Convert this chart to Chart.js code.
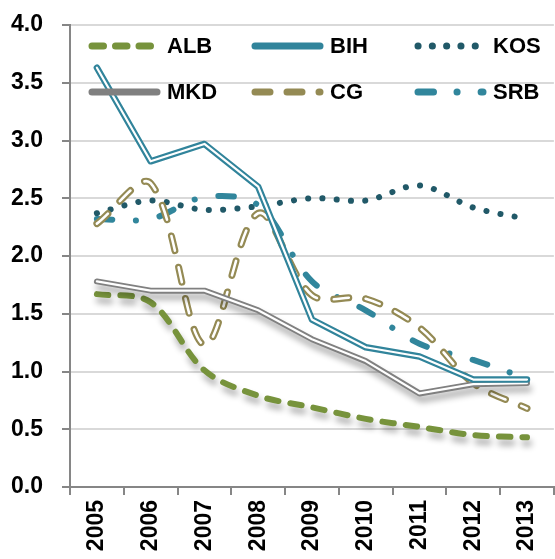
<!DOCTYPE html>
<html>
<head>
<meta charset="utf-8">
<script src="https://cdn.jsdelivr.net/npm/chart.js@4/dist/chart.umd.min.js"></script>
<style>
    html, body { margin: 0; padding: 0; background: #fff; }
    #wrap { width: 555px; height: 559px; }
</style>
</head>
<body>
<div id="wrap"><canvas id="chart" width="555" height="559"></canvas></div>
<script>
const years = ['2005', '2006', '2007', '2008', '2009', '2010', '2011', '2012', '2013'];
const yTicks = [0, 0.5, 1, 1.5, 2, 2.5, 3, 3.5, 4];

const alb = [1.67, 1.60, 1.01, 0.79, 0.69, 0.59, 0.52, 0.45, 0.43];
const bih = [3.63, 2.82, 2.97, 2.60, 1.45, 1.21, 1.13, 0.93, 0.93];
const kos = [2.37, 2.48, 2.40, 2.43, 2.50, 2.48, 2.61, 2.42, 2.32];
const mkd = [1.78, 1.70, 1.70, 1.53, 1.28, 1.09, 0.81, 0.89, 0.90];
const cg  = [2.28, 2.63, 1.23, 2.37, 1.66, 1.63, 1.38, 0.90, 0.68];
const srb = [2.32, 2.32, 2.51, 2.44, 1.78, 1.53, 1.24, 1.10, 0.94];

const seriesNames = ['ALB', 'BIH', 'KOS', 'MKD', 'CG', 'SRB'];

// look of each series, also used for the legend samples
const styles = {
    ALB: { color: '#77933C', width: 6, dash: [11.5, 12], tension: 0.33, shadow: true },
    BIH: { color: '#31849B', width: 6.5, inner: 2.2, dash: [], tension: 0, double: true },
    KOS: { color: '#215968', width: 6, dash: [0.1, 14.2], tension: 0.33 },
    MKD: { color: '#808080', width: 6, inner: 2.2, dash: [], tension: 0, double: true, shadow: true },
    CG:  { color: '#948A54', width: 7, inner: 2.6, dash: [15, 17], tension: 0.33, double: true },
    SRB: { color: '#31869C', width: 6, dash: [15.5, 23.5, 0.1, 24], tension: 0.33 }
};

const values = { ALB: alb, BIH: bih, KOS: kos, MKD: mkd, CG: cg, SRB: srb };
// bottom to top
const drawOrder = ['KOS', 'SRB', 'ALB', 'CG', 'MKD', 'BIH'];

const FONT = '"Liberation Sans", Arial, sans-serif';
const AXIS = '#868686';

function buildDatasets() {
    let list = [];
    let order = 100;
    drawOrder.forEach((name) => {
        const st = styles[name];
        list.push({
            label: name,
            data: values[name],
            borderColor: st.color,
            borderWidth: st.width,
            borderDash: st.dash,
            borderCapStyle: 'round',
            borderJoinStyle: 'round',
            tension: st.tension,
            pointRadius: 0,
            fill: false,
            shadow: st.shadow === true,
            order: order--
        });
        if (st.double) {
            list.push({
                label: name + '_inner',
                data: values[name],
                borderColor: '#FFFFFF',
                borderWidth: st.inner,
                borderDash: st.dash,
                borderCapStyle: 'round',
                borderJoinStyle: 'round',
                tension: st.tension,
                pointRadius: 0,
                fill: false,
                order: order--
            });
        }
    });
    return list;
}

const shadowPlugin = {
    id: 'lineShadow',
    beforeDatasetDraw(chart, args) {
        const ds = chart.data.datasets[args.index];
        chart.ctx.save();
        if (ds.shadow) {
            chart.ctx.shadowColor = 'rgba(0, 0, 0, 0.32)';
            chart.ctx.shadowBlur = 6;
            chart.ctx.shadowOffsetX = 2;
            chart.ctx.shadowOffsetY = 6;
        }
    },
    afterDatasetDraw(chart) {
        chart.ctx.restore();
    }
};

// legend laid out as a 3 x 2 grid inside the plot
const gridLegend = {
    id: 'gridLegend',
    afterDraw(chart) {
        const ctx = chart.ctx;
        ctx.save();
        ctx.font = 'bold 22px ' + FONT;
        ctx.textBaseline = 'middle';
        ctx.textAlign = 'left';
        seriesNames.forEach((name, i) => {
            const st = styles[name];
            const x = 89 + (i % 3) * 163;
            const y = 46 + Math.floor(i / 3) * 46;
            ctx.beginPath();
            ctx.lineCap = 'round';
            ctx.lineWidth = 7;
            ctx.strokeStyle = st.color;
            ctx.setLineDash(st.dash);
            ctx.moveTo(x + 3, y);
            ctx.lineTo(x + 68, y);
            ctx.stroke();
            ctx.setLineDash([]);
            ctx.fillStyle = '#000';
            ctx.fillText(name, x + 78, y + 1);
        });
        ctx.restore();
    }
};

new Chart(document.getElementById('chart'), {
    type: 'line',
    data: {
        labels: years,
        datasets: buildDatasets()
    },
    options: {
        responsive: false,
        animation: false,
        layout: { padding: { top: 25, right: 0, left: 11, bottom: 0 } },
        plugins: {
            legend: { display: false },
            tooltip: { enabled: false }
        },
        scales: {
            x: {
                offset: true,
                afterFit: (scale) => { scale.height = 72; },
                grid: {
                    offset: true,
                    drawOnChartArea: false,
                    tickLength: 8,
                    tickColor: AXIS,
                    lineWidth: 2
                },
                border: { color: AXIS, width: 2 },
                ticks: {
                    minRotation: 90,
                    maxRotation: 90,
                    padding: 5,
                    color: '#000',
                    font: { family: FONT, size: 23, weight: 'bold', lineHeight: 1 }
                }
            },
            y: {
                min: 0,
                max: 4,
                afterFit: (scale) => { scale.width = 59; },
                afterBuildTicks: (scale) => {
                    scale.ticks = yTicks.map((v) => ({ value: v }));
                },
                grid: {
                    color: '#D9D9D9',
                    lineWidth: 2,
                    tickLength: 8,
                    tickColor: AXIS
                },
                border: { color: AXIS, width: 2 },
                ticks: {
                    crossAlign: 'far',
                    padding: 0,
                    color: '#000',
                    font: { family: FONT, size: 23, weight: 'bold' },
                    callback: (v) => Number(v).toFixed(1)
                }
            }
        }
    },
    plugins: [shadowPlugin, gridLegend]
});
</script>
</body>
</html>
